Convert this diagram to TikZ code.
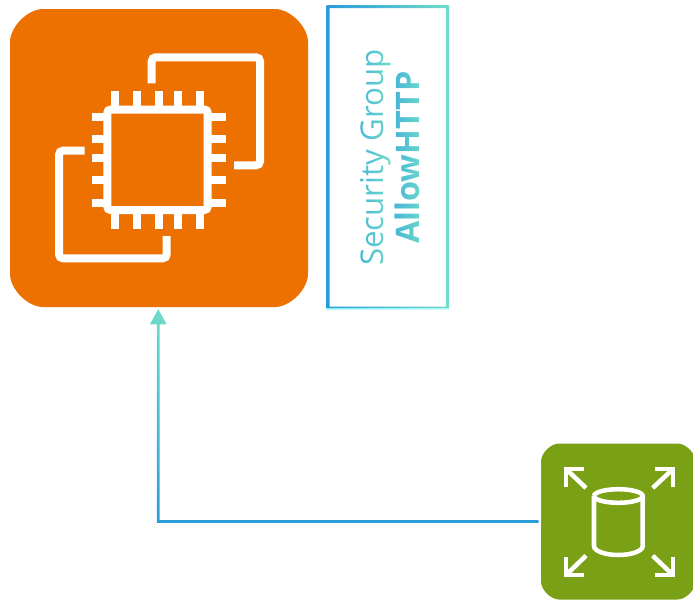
\documentclass[tikz,border=0pt]{standalone}
\usepackage{fontspec}
\setmainfont{Open Sans}[BoldFont=* Bold]
\usetikzlibrary{arrows.meta,calc}
\definecolor{gblue}{HTML}{2A9ADC}
\definecolor{gmid}{HTML}{42B2D8}
\definecolor{gteal}{HTML}{70DCC8}
\definecolor{ec2orange}{HTML}{ED7100}
\definecolor{dbgreen}{HTML}{7AA116}
\tikzset{
  iconbox/.style={inner sep=0pt,outer sep=0pt},
  glyph/.style={draw=white,line width=6pt,rounded corners=3pt},
  pin/.style={draw=white,line width=6pt},
  dbglyph/.style={draw=white,line width=3.4pt,line cap=butt,line join=miter},
}
\begin{document}
\begin{tikzpicture}[x=0.75pt,y=-0.75pt]
\useasboundingbox (0,0) rectangle (693,600);
\fill[white] (0,0) rectangle (693,600);

% EC2 icon
\fill[ec2orange] (43,9) -- (275,9) .. controls (290.2,9) and (308,26.8) .. (308,42) -- (308,274) .. controls (308,289.2) and (290.2,307) .. (275,307) -- (43,307) .. controls (27.8,307) and (10,289.2) .. (10,274) -- (10,42) .. controls (10,26.8) and (27.8,9) .. (43,9) -- cycle;
\node[iconbox,minimum width=223.5pt,minimum height=223.5pt] (ec2) at (159,158) {};
\draw[glyph] (151.7,83.3) -- (151.7,57.3) -- (260,57.3) -- (260,165.3) -- (234,165.3);
\draw[glyph] (84.7,150.7) -- (59,150.7) -- (59,258.3) -- (166.7,258.3) -- (166.7,236);
\draw[glyph,rounded corners=2.5pt] (107.3,109.5) rectangle (207.7,210);
\foreach \px in {114.7,137,159.3,178,200.3}{
  \draw[pin] (\px,91) -- (\px,106);
  \draw[pin] (\px,214) -- (\px,228.7);
}
\foreach \py in {117,139.3,158,180.3,202.7}{
  \draw[pin] (92,\py) -- (104,\py);
  \draw[pin] (211,\py) -- (226.3,\py);
}

% Database icon
\fill[dbgreen] (559,443.5) -- (677.5,443.5) .. controls (685.8,443.5) and (695.5,453.2) .. (695.5,461.5) -- (695.5,581.5) .. controls (695.5,589.8) and (685.8,599.5) .. (677.5,599.5) -- (559,599.5) .. controls (550.7,599.5) and (541,589.8) .. (541,581.5) -- (541,461.5) .. controls (541,453.2) and (550.7,443.5) .. (559,443.5) -- cycle;
\node[iconbox,minimum width=116pt,minimum height=116.5pt] (db) at (618,521.5) {};
\draw[dbglyph] (594,496) arc[x radius=24.35,y radius=6.8,start angle=180,end angle=-180];
\draw[dbglyph] (594,496) -- (594,546) arc[x radius=24.35,y radius=9,start angle=180,end angle=0] -- (642.7,496);
\foreach \cx/\cy/\sx/\sy/\ex/\ey in {566/469/1/1/586/488,673/469/-1/1/652.7/488,566/575/1/-1/586/555.7,673/575/-1/-1/652.7/555.7}{
  \draw[dbglyph] (\cx+\sx*18,\cy) -- (\cx,\cy) -- (\cx,\cy+\sy*18);
  \draw[dbglyph] (\cx,\cy) -- (\ex,\ey);
}

% Security group
\node[rotate=90,align=center,text=black,inner sep=0pt,font=\fontsize{23.5pt}{27.5pt}\selectfont] (sg) at (390,157.5) {Security Group\\\fontsize{24.3pt}{27.5pt}\selectfont\textbf{AllowHTTP}};
\begin{scope}[blend mode=screen]
\shade[left color=gmid,right color=gteal] (355,10) rectangle (391,304);
\shade[left color=gmid,right color=gteal] (391,10) rectangle (425,304);
\end{scope}
\shade[left color=gblue,right color=gteal,even odd rule] (326.7,5) rectangle (449,309.7) (329.7,8) rectangle (446,306.7);

% Connector
\draw[black,line width=2pt,-{Triangle[length=11.5pt,width=12pt]},shorten >=1.5pt,shorten <=1.5pt]
  (db.west) -- (158.3,521.5) -- ($(ec2.south)+(-0.7,0)$);
\begin{scope}[blend mode=screen]
\shade[bottom color=gblue,top color=gteal] (145,308) rectangle (541,524);
\end{scope}
\end{tikzpicture}
\end{document}
